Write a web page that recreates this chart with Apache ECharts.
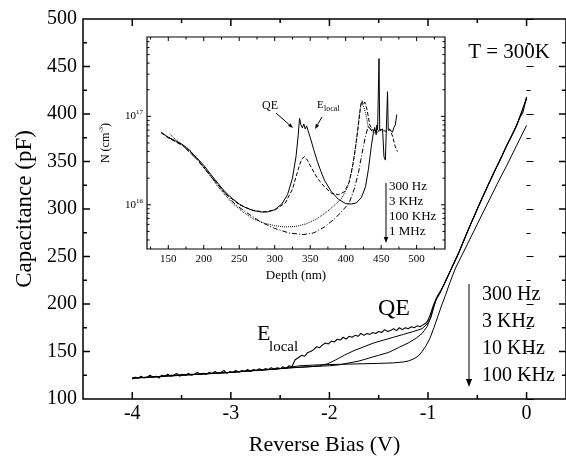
<!DOCTYPE html>
<html><head><meta charset="utf-8">
<script src="https://cdn.jsdelivr.net/npm/echarts@6/dist/echarts.min.js"></script>
<style>html,body{margin:0;padding:0;background:#fff}#c{width:566px;height:463px}</style>
</head><body><div id="c"></div>
<script>
// ---------------- main chart data: [reverse bias (V), capacitance (pF)] ----------------
const cv300Hz = [[-4.00,121],[-3.97,123],[-3.94,122],[-3.91,124],[-3.88,122],[-3.85,123],[-3.82,125],[-3.79,123],[-3.76,124],[-3.73,122],[-3.70,125],[-3.67,124],[-3.64,126],[-3.61,124],[-3.58,125],[-3.55,127],[-3.52,124],[-3.49,126],[-3.46,125],[-3.43,127],[-3.40,125],[-3.37,126],[-3.34,128],[-3.31,126],[-3.28,127],[-3.25,126],[-3.22,128],[-3.19,127],[-3.16,129],[-3.13,127],[-3.10,128],[-3.07,130],[-3.04,127],[-3.01,129],[-2.98,128],[-2.95,130],[-2.92,128],[-2.89,130],[-2.86,129],[-2.83,131],[-2.80,129],[-2.77,131],[-2.74,130],[-2.71,132],[-2.68,130],[-2.65,132],[-2.62,131],[-2.59,133],[-2.56,131],[-2.53,133],[-2.50,132],[-2.47,134],[-2.44,132],[-2.41,135],[-2.38,134],[-2.36,136],[-2.35,141],[-2.33,140],[-2.31,144],[-2.28,146],[-2.25,145],[-2.22,149],[-2.19,150],[-2.16,152],[-2.13,155],[-2.10,154],[-2.07,157],[-2.04,159],[-2.01,158],[-1.98,161],[-1.95,160],[-1.92,163],[-1.89,162],[-1.86,165],[-1.83,163],[-1.80,166],[-1.77,165],[-1.74,167],[-1.71,166],[-1.68,169],[-1.65,167],[-1.62,169],[-1.59,168],[-1.56,170],[-1.53,169],[-1.50,171],[-1.47,170],[-1.44,173],[-1.41,171],[-1.38,172],[-1.35,174],[-1.32,172],[-1.29,175],[-1.26,173],[-1.23,175],[-1.20,174],[-1.17,176],[-1.14,175],[-1.11,177],[-1.08,176],[-1.05,178],[-1.02,180],[-1.00,183],[-0.98,188],[-0.96,194],[-0.94,200],[-0.92,205],[-0.90,209],[-0.87,214],[-0.84,220],[-0.80,229],[-0.76,238],[-0.72,247],[-0.68,256],[-0.64,266],[-0.60,276],[-0.56,286],[-0.52,295],[-0.48,305],[-0.44,314],[-0.40,323],[-0.36,332],[-0.32,341],[-0.28,349],[-0.24,358],[-0.20,367],[-0.16,375],[-0.12,384],[-0.09,391],[-0.06,398],[-0.04,401],[-0.02,409],[0.00,418]];
const cv3KHz = [[-4.00,122],[-3.80,123],[-3.60,125],[-3.40,126],[-3.20,127],[-3.00,128],[-2.80,130],[-2.60,131],[-2.40,133],[-2.20,134],[-2.10,135],[-2.02,137],[-1.94,141],[-1.85,146],[-1.75,151],[-1.65,155],[-1.55,159],[-1.45,162],[-1.35,165],[-1.25,168],[-1.15,171],[-1.06,174],[-1.00,180],[-0.97,186],[-0.94,197],[-0.92,204],[-0.90,209],[-0.87,214],[-0.84,220],[-0.80,229],[-0.70,251],[-0.60,276],[-0.50,300],[-0.40,323],[-0.30,345],[-0.20,367],[-0.10,388],[0.00,416]];
const cv10KHz = [[-4.00,122],[-3.50,125],[-3.00,128],[-2.50,132],[-2.20,134],[-2.00,135],[-1.90,136],[-1.80,138],[-1.70,140],[-1.60,143],[-1.50,146],[-1.40,149],[-1.30,154],[-1.20,159],[-1.12,164],[-1.06,169],[-1.01,176],[-0.98,184],[-0.95,195],[-0.92,204],[-0.88,211],[-0.84,220],[-0.80,229],[-0.70,251],[-0.60,276],[-0.50,300],[-0.40,323],[-0.30,345],[-0.20,367],[-0.10,388],[0.00,417]];
const cv100KHz = [[-4.00,122],[-3.50,125],[-3.00,128],[-2.50,132],[-2.30,135],[-2.10,136],[-1.90,136.5],[-1.70,137],[-1.50,137.5],[-1.35,138],[-1.25,139],[-1.20,140],[-1.15,142],[-1.10,145],[-1.06,150],[-1.02,156],[-0.98,164],[-0.94,175],[-0.90,187],[-0.86,199],[-0.82,210],[-0.78,222],[-0.72,238],[-0.60,263],[-0.50,284],[-0.40,305],[-0.30,326],[-0.20,346],[-0.10,367],[0.00,388]];

// ---------------- inset data: [depth (nm), N (cm^-3)] ----------------
const nd300Hz = [[140,6.6e16],[145,6.2e16],[150,5.8e16],[160,5.3e16],[170,4.8e16],[180,4.1e16],[190,3.4e16],[200,2.8e16],[210,2.2e16],[220,1.75e16],[230,1.4e16],[240,1.18e16],[250,1.02e16],[260,9.2e15],[270,8.6e15],[280,8.3e15],[290,8.3e15],[300,8.8e15],[310,1.02e16],[318,1.3e16],[325,2.0e16],[330,3.5e16],[333,6e16],[335,9.5e16],[337,8e16],[339,7.4e16],[341,8.2e16],[343,7.2e16],[345,7.8e16],[347,6.9e16],[350,5.8e16],[355,4.2e16],[360,3.1e16],[365,2.4e16],[370,1.9e16],[380,1.4e16],[390,1.15e16],[400,1.03e16],[408,1.02e16],[415,1.05e16],[422,1.2e16],[428,1.6e16],[432,2.5e16],[436,4.5e16],[439,6.5e16],[441,7.5e16],[443,6.2e16],[444,8e16],[445,7e16],[447,4.5e17],[448,7e16],[450,6.8e16],[452,7.2e16],[454,3.5e16],[456,3.2e16],[457,6e16],[459,1.9e17],[460,7e16],[463,7e16],[466,6.6e16],[468,7.5e16],[470,8e16],[472,1.05e17]];
const nd3KHz = [[140,6.5e16],[150,5.7e16],[170,4.7e16],[190,3.3e16],[210,2.1e16],[230,1.35e16],[250,1.0e16],[270,8.6e15],[285,8.3e15],[300,8.7e15],[315,1.05e16],[325,1.5e16],[333,2.5e16],[338,3.3e16],[342,3.5e16],[346,3.2e16],[352,2.6e16],[360,2.0e16],[370,1.6e16],[380,1.35e16],[390,1.3e16],[398,1.4e16],[405,1.8e16],[410,2.8e16],[414,4.5e16],[418,8e16],[421,1.3e17],[423,1.5e17],[425,1.35e17],[427,1.45e17],[430,1.2e17],[434,8e16],[438,7e16],[445,6.8e16],[452,7e16],[458,6.7e16],[462,7.2e16],[466,6e16],[470,4.5e16],[473,4e16]];
const nd100KHz = [[152,6.3e16],[160,5.5e16],[180,4.2e16],[200,2.7e16],[220,1.6e16],[240,1.05e16],[255,8.3e15],[270,6.9e15],[285,6.2e15],[300,5.8e15],[315,5.6e15],[330,5.7e15],[345,6.1e15],[360,7e15],[375,8.5e15],[385,1.0e16],[395,1.2e16],[403,1.6e16],[408,2.3e16],[412,3.5e16],[416,6e16],[419,1.0e17],[422,1.45e17],[425,1.3e17],[428,1.1e17],[432,7.5e16],[438,6.8e16]];
const nd1MHz = [[150,5.8e16],[170,4.7e16],[190,3.3e16],[210,2.1e16],[230,1.35e16],[245,1.0e16],[260,8.2e15],[280,6.4e15],[300,5.4e15],[320,4.8e15],[340,4.6e15],[355,4.8e15],[370,5.6e15],[385,7e15],[395,8.5e15],[405,1.05e16],[412,1.5e16],[418,2.3e16],[423,3.8e16],[428,6e16],[432,7.8e16],[436,7e16],[440,6.5e16],[445,6.6e16]];

// ---------------- ticks / labels ----------------
const mainXRange = [-4.5, 0.4];
const mainYRange = [100, 500];
const mainXLabels = [-4, -3, -2, -1, 0];
const mainXMinor = [-3.5, -2.5, -1.5, -0.5];
const mainYMajor = [150, 200, 250, 300, 350, 400, 450];
const mainYMinor = [125, 175, 225, 275, 325, 375, 425, 475];
const insetXRange = [120, 540];
const insetYRange = [3.16e15, 7.9e17];
const insetXLabels = [150, 200, 250, 300, 350, 400, 450, 500];
const insetXMinor = [125, 175, 225, 275, 325, 375, 425, 475, 525];
const insetYMajor = [1e16, 1e17];
const insetYMinor = [4e15,5e15,6e15,7e15,8e15,9e15,2e16,3e16,4e16,5e16,6e16,7e16,8e16,9e16,2e17,3e17,4e17,5e17,6e17,7e17];
const mainLegend = ['300 Hz', '3 KHz', '10 KHz', '100 KHz'];
const insetLegend = ['300 Hz', '3 KHz', '100 KHz', '1 MHz'];

const FONT = '"Liberation Serif", "Times New Roman", serif';
const BLACK = '#000';
const MAIN_GRID = {left: 83, top: 19, width: 484, height: 380};
const INSET_GRID = {left: 147, top: 37, width: 298, height: 212};

const chart = echarts.init(document.getElementById('c'), null, {renderer: 'canvas'});

function mainSeries(name, data, w) {
  return {name: name, type: 'line', xAxisIndex: 0, yAxisIndex: 0, data: data,
    showSymbol: false, symbol: 'none', lineStyle: {color: BLACK, width: w}, z: 3, clip: true};
}
function insetSeries(name, data, type) {
  return {name: name, type: 'line', xAxisIndex: 1, yAxisIndex: 1, data: data,
    showSymbol: false, symbol: 'none', lineStyle: {color: BLACK, width: 1, type: type}, z: 5, clip: true};
}

// Inward tick marks on all four sides, each one a two-point line series in data space.
function tickSegments(ax, values, lenPx, grid, xr, yr, yLog) {
  const segs = [];
  values.forEach(v => {
    if (ax === 'x') {
      if (yLog) {
        const f = Math.pow(10, lenPx * (Math.log10(yr[1]) - Math.log10(yr[0])) / grid.height);
        segs.push([[v, yr[0]], [v, yr[0] * f]], [[v, yr[1]], [v, yr[1] / f]]);
      } else {
        const d = lenPx * (yr[1] - yr[0]) / grid.height;
        segs.push([[v, yr[0]], [v, yr[0] + d]], [[v, yr[1]], [v, yr[1] - d]]);
      }
    } else {
      const d = lenPx * (xr[1] - xr[0]) / grid.width;
      segs.push([[xr[0], v], [xr[0] + d, v]], [[xr[1], v], [xr[1] - d, v]]);
    }
  });
  return segs;
}
function tickSeriesList(segs, idx, w, z) {
  return segs.map(s => ({type: 'line', xAxisIndex: idx, yAxisIndex: idx, data: s,
    showSymbol: false, symbol: 'none', silent: true, clip: false, z: z,
    lineStyle: {color: BLACK, width: w}}));
}

function seg(x1, y1, x2, y2, w) {
  return {type: 'line', z: 12, silent: true, shape: {x1: x1, y1: y1, x2: x2, y2: y2}, style: {stroke: BLACK, lineWidth: w}};
}
function arrow(x1, y1, x2, y2, head, w) {
  const dx = x2 - x1, dy = y2 - y1, L = Math.hypot(dx, dy);
  const ux = dx / L, uy = dy / L, px = -uy, py = ux;
  const bx = x2 - ux * head, by = y2 - uy * head;
  const hw = head * 0.38;
  return [
    seg(x1, y1, bx, by, w),
    {type: 'polygon', z: 12, shape: {points: [[x2, y2], [bx + px * hw, by + py * hw], [bx - px * hw, by - py * hw]]}, style: {fill: BLACK}}
  ];
}
function txt(x, y, text, size, align) {
  return {type: 'text', z: 12, x: x, y: y,
    style: {text: text, fontFamily: FONT, fontSize: size, fill: BLACK, align: align || 'left', verticalAlign: 'middle'}};
}

const graphics = [].concat(
  [txt(550, 52, 'T = 300K', 21, 'right')],
  arrow(469, 284, 469, 387, 8, 1),
  mainLegend.map((t, i) => txt(482, [295, 322, 349, 376][i], t, 20)),
  [txt(394, 309, 'QE', 24, 'center'), txt(257, 334, 'E', 22), txt(269, 347, 'local', 15)],
  arrow(386, 183, 386, 243, 6, 1),
  insetLegend.map((t, i) => txt(389, [187, 202, 217, 232][i], t, 13)),
  [txt(270, 106, 'QE', 12, 'center'), txt(317, 105, 'E', 11), txt(324, 109, 'local', 8)],
  arrow(276, 113, 293, 128, 5, 1),
  arrow(322, 117, 315, 129, 5, 1)
);

const noLine = {show: false};
const noTick = {show: false};

const tickSeries = [].concat(
  tickSeriesList(tickSegments('x', mainXLabels, 7, MAIN_GRID, mainXRange, mainYRange, false), 0, 1.5, 8),
  tickSeriesList(tickSegments('x', mainXMinor, 4, MAIN_GRID, mainXRange, mainYRange, false), 0, 1.5, 8),
  tickSeriesList(tickSegments('y', mainYMajor, 7, MAIN_GRID, mainXRange, mainYRange, false), 0, 1.5, 8),
  tickSeriesList(tickSegments('y', mainYMinor, 4, MAIN_GRID, mainXRange, mainYRange, false), 0, 1.5, 8),
  tickSeriesList(tickSegments('x', insetXLabels, 4, INSET_GRID, insetXRange, insetYRange, true), 1, 1, 8),
  tickSeriesList(tickSegments('x', insetXMinor, 2.5, INSET_GRID, insetXRange, insetYRange, true), 1, 1, 8),
  tickSeriesList(tickSegments('y', insetYMajor, 4, INSET_GRID, insetXRange, insetYRange, true), 1, 1, 8),
  tickSeriesList(tickSegments('y', insetYMinor, 2.5, INSET_GRID, insetXRange, insetYRange, true), 1, 1, 8)
);

chart.setOption({
  animation: false,
  backgroundColor: '#fff',
  grid: [
    Object.assign({show: true, borderColor: BLACK, borderWidth: 1.5, backgroundColor: 'transparent'}, MAIN_GRID),
    Object.assign({show: true, borderColor: BLACK, borderWidth: 1.2, backgroundColor: '#fff', z: 4}, INSET_GRID)
  ],
  xAxis: [
    {gridIndex: 0, type: 'value', min: mainXRange[0], max: mainXRange[1], position: 'bottom',
     axisLine: noLine, axisTick: noTick, splitLine: {show: false},
     axisLabel: {customValues: mainXLabels, fontFamily: FONT, fontSize: 20, color: BLACK, margin: 5},
     name: 'Reverse Bias (V)', nameLocation: 'middle', nameGap: 35,
     nameTextStyle: {fontFamily: FONT, fontSize: 22, color: BLACK}},
    {gridIndex: 1, type: 'value', min: insetXRange[0], max: insetXRange[1], position: 'bottom',
     axisLine: noLine, axisTick: noTick, splitLine: {show: false},
     axisLabel: {customValues: insetXLabels, fontFamily: FONT, fontSize: 11, color: BLACK, margin: 5},
     name: 'Depth (nm)', nameLocation: 'middle', nameGap: 20,
     nameTextStyle: {fontFamily: FONT, fontSize: 13, color: BLACK}}
  ],
  yAxis: [
    {gridIndex: 0, type: 'value', min: mainYRange[0], max: mainYRange[1], interval: 50, position: 'left',
     axisLine: noLine,
     axisTick: {show: true, inside: true, length: 7, lineStyle: {color: BLACK}},
     minorTick: {show: true, splitNumber: 2, length: 4, lineStyle: {color: BLACK}},
     splitLine: {show: false}, minorSplitLine: {show: false},
     axisLabel: {fontFamily: FONT, fontSize: 20, color: BLACK, margin: 6},
     name: 'Capacitance (pF)', nameLocation: 'middle', nameGap: 47, nameRotate: 90,
     nameTextStyle: {fontFamily: FONT, fontSize: 23, color: BLACK}},
    {gridIndex: 1, type: 'log', logBase: 10, min: insetYRange[0], max: insetYRange[1], position: 'left',
     axisLine: noLine, axisTick: noTick, splitLine: {show: false},
     axisLabel: {customValues: insetYMajor, margin: 4,
       formatter: v => '{b|10}{s|' + Math.round(Math.log10(v)) + '}',
       rich: {b: {fontFamily: FONT, fontSize: 11, color: BLACK},
              s: {fontFamily: FONT, fontSize: 7, color: BLACK, padding: [0, 0, 8, 0]}}},
     name: '{a|N (cm}{s|-3}{a|)}', nameLocation: 'middle', nameGap: 34, nameRotate: 90,
     nameTextStyle: {rich: {a: {fontFamily: FONT, fontSize: 12, color: BLACK},
                            s: {fontFamily: FONT, fontSize: 7, color: BLACK, padding: [0, 0, 8, 0]}}}}
  ],
  series: [
    mainSeries('300 Hz', cv300Hz, 1.1),
    mainSeries('3 KHz', cv3KHz, 1),
    mainSeries('10 KHz', cv10KHz, 1),
    mainSeries('100 KHz', cv100KHz, 1),
    insetSeries('300 Hz', nd300Hz, 'solid'),
    insetSeries('3 KHz', nd3KHz, 'dashed'),
    insetSeries('100 KHz', nd100KHz, 'dotted'),
    insetSeries('1 MHz', nd1MHz, [5, 2, 1, 2])
  ].concat(tickSeries),
  graphic: graphics
});
</script></body></html>
